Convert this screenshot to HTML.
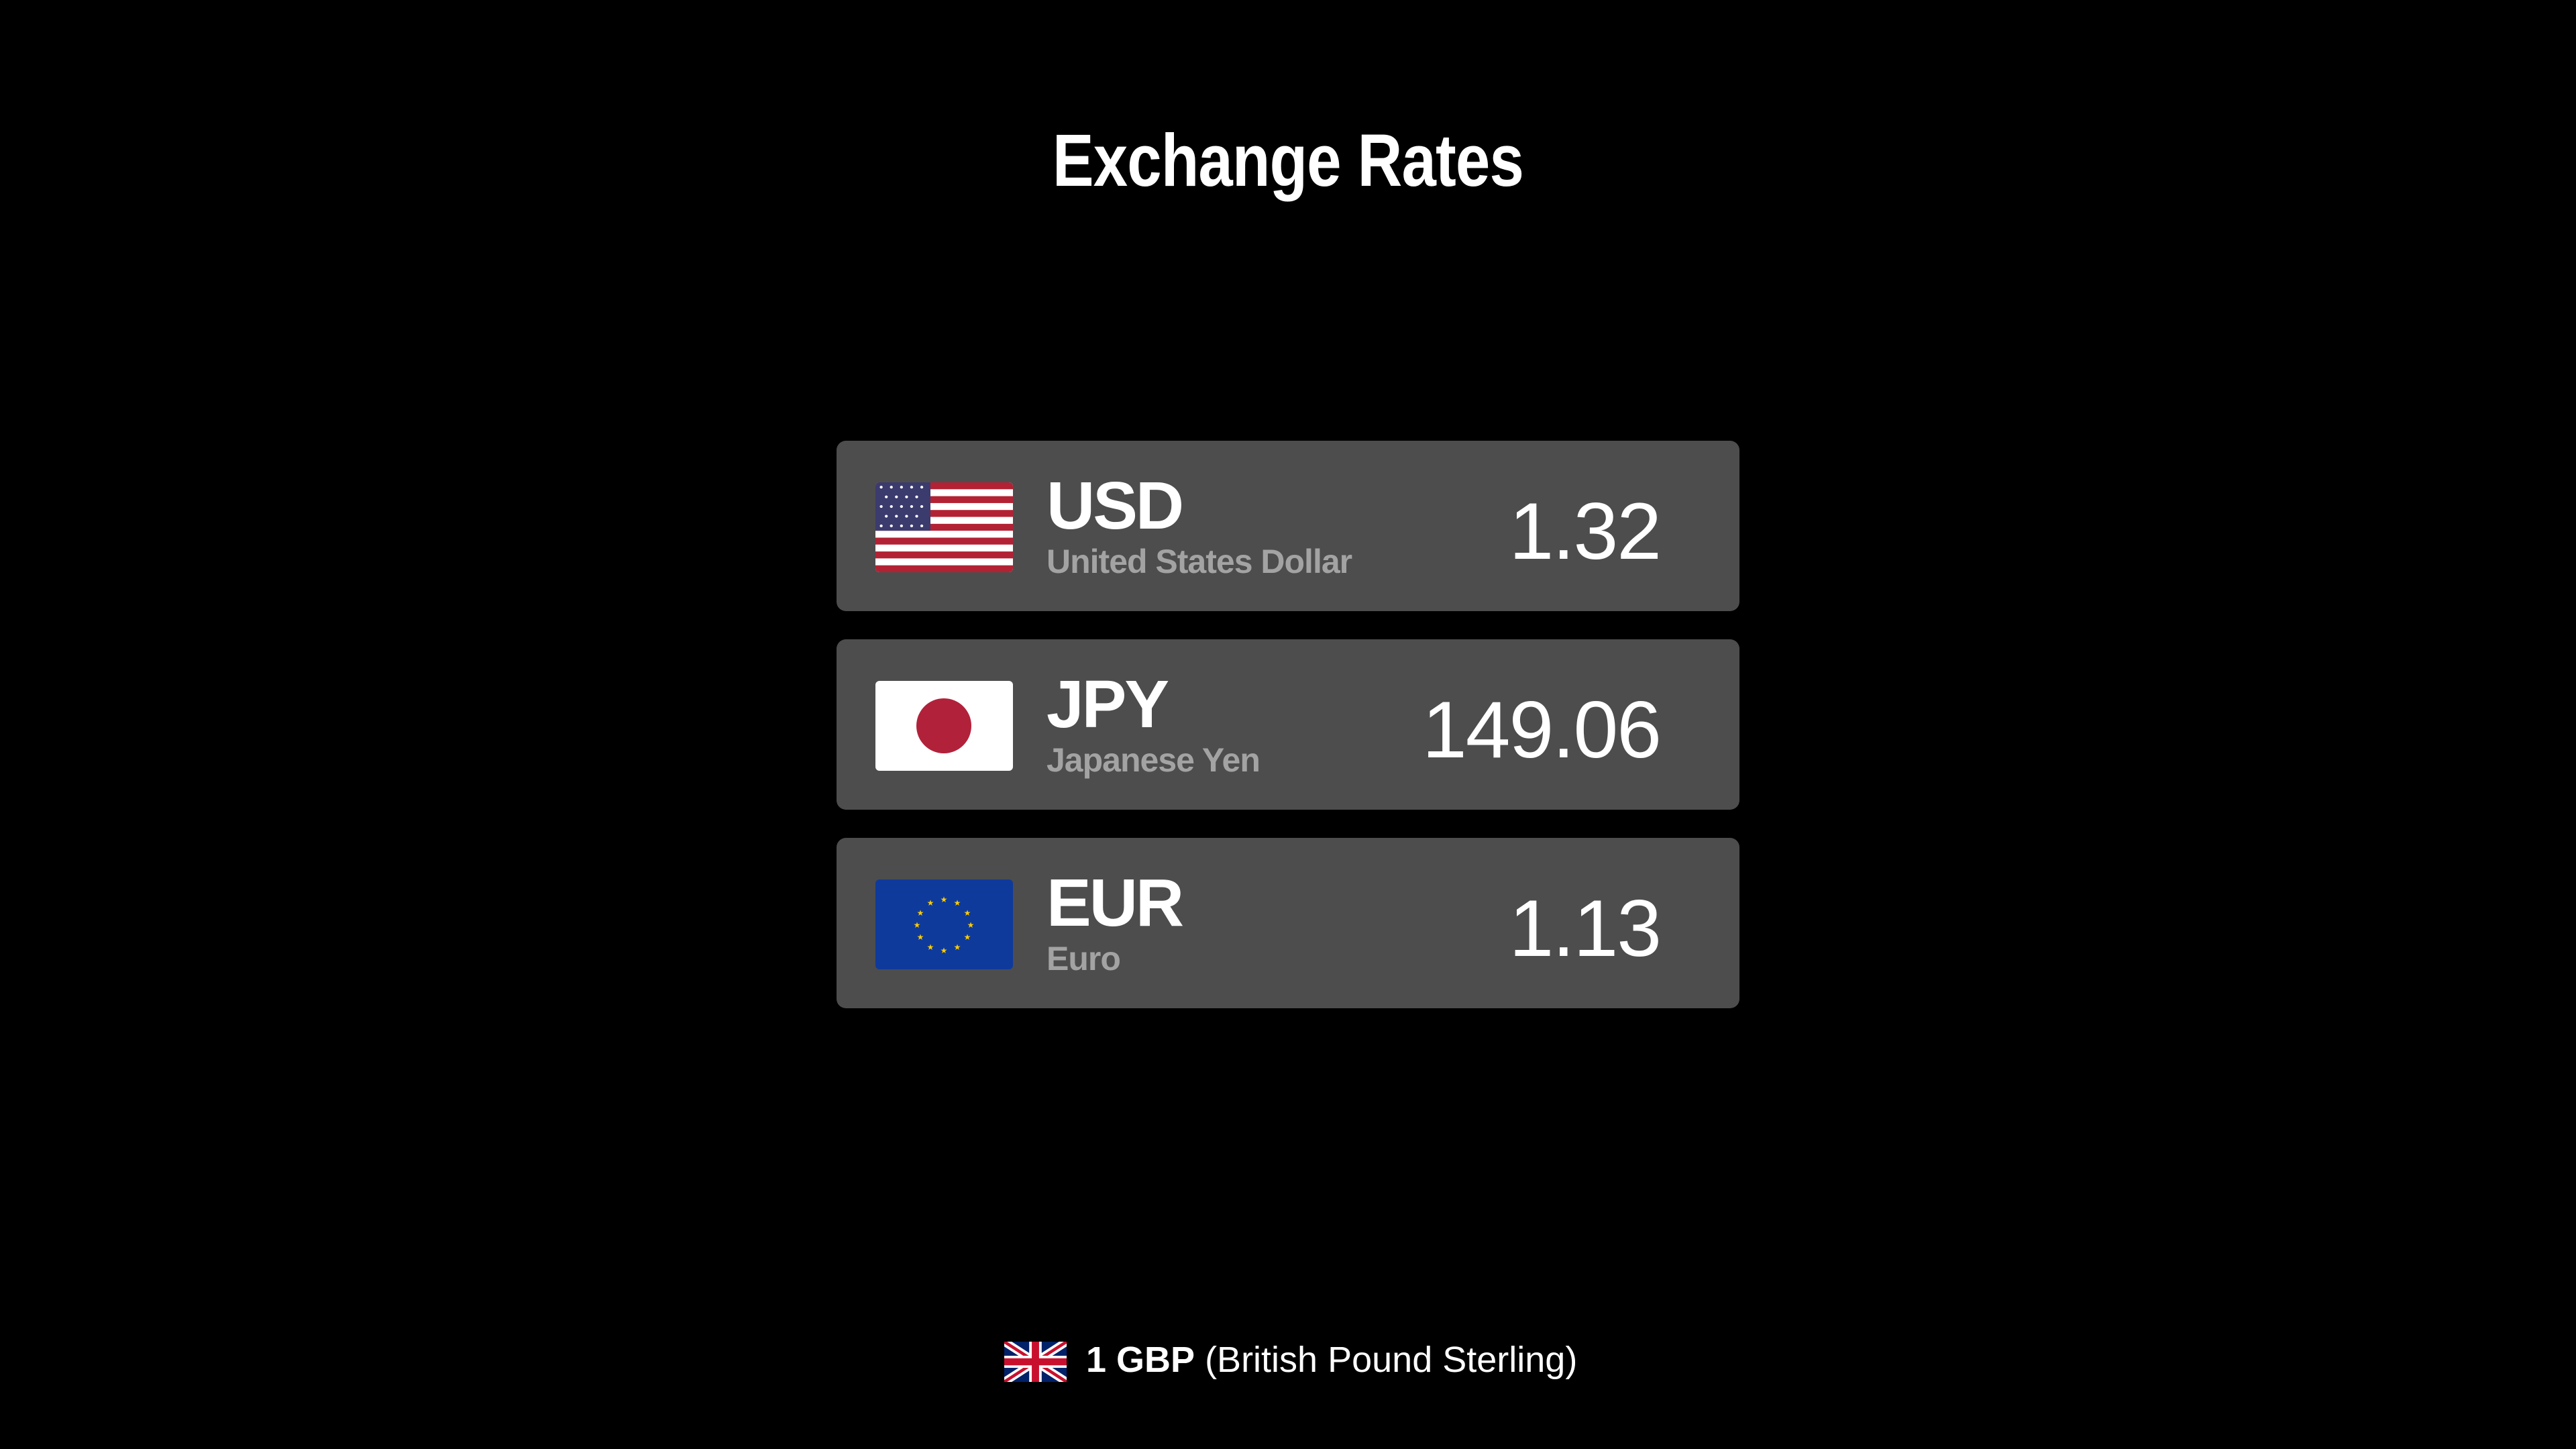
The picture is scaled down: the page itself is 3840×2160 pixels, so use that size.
<!DOCTYPE html>
<html><head><meta charset="utf-8"><style>
body{margin:0;width:3840px;height:2160px;background:#000;overflow:hidden;font-family:"Liberation Sans",sans-serif;color:#fff;position:relative}
.abs{position:absolute}
.title{left:0;width:3840px;text-align:center;top:180px;font-size:110px;font-weight:bold;line-height:120px;letter-spacing:-1px;transform:scaleX(0.84);transform-origin:1920px 0}
.card{left:1247px;width:1346px;height:254px;background:#4d4d4d;border-radius:14px}
.flag{left:58px;top:62px;width:205px;height:134px;border-radius:6px;overflow:hidden}
.code{left:313px;top:42px;font-size:100px;font-weight:bold;line-height:110px;letter-spacing:-3px}
.name{left:313px;top:150px;font-size:50px;font-weight:bold;color:#a3a3a3;line-height:60px;letter-spacing:-1px}
.val{right:118px;top:70px;font-size:120px;line-height:130px;letter-spacing:-2px}
.foot{left:1619px;top:1992px;font-size:54px;line-height:70px;white-space:nowrap}
</style></head><body>
<div class="abs title">Exchange Rates</div>

<div class="abs card" style="top:657px">
 <svg class="abs flag" viewBox="0 0 190 130" preserveAspectRatio="none">
  <rect width="190" height="130" fill="#fff"/>
  <g fill="#b22234"><rect y="0" width="190" height="10"/><rect y="20" width="190" height="10"/><rect y="40" width="190" height="10"/><rect y="60" width="190" height="10"/><rect y="80" width="190" height="10"/><rect y="100" width="190" height="10"/><rect y="120" width="190" height="10"/></g>
  <rect width="76" height="70" fill="#3c3b6e"/>
  <g fill="#fff"><circle cx="8" cy="7" r="2"/><circle cx="22" cy="7" r="2"/><circle cx="36" cy="7" r="2"/><circle cx="50" cy="7" r="2"/><circle cx="64" cy="7" r="2"/><circle cx="15" cy="21" r="2"/><circle cx="29" cy="21" r="2"/><circle cx="43" cy="21" r="2"/><circle cx="57" cy="21" r="2"/><circle cx="8" cy="35" r="2"/><circle cx="22" cy="35" r="2"/><circle cx="36" cy="35" r="2"/><circle cx="50" cy="35" r="2"/><circle cx="64" cy="35" r="2"/><circle cx="15" cy="49" r="2"/><circle cx="29" cy="49" r="2"/><circle cx="43" cy="49" r="2"/><circle cx="57" cy="49" r="2"/><circle cx="8" cy="63" r="2"/><circle cx="22" cy="63" r="2"/><circle cx="36" cy="63" r="2"/><circle cx="50" cy="63" r="2"/><circle cx="64" cy="63" r="2"/></g>
 </svg>
 <div class="abs code">USD</div>
 <div class="abs name">United States Dollar</div>
 <div class="abs val">1.32</div>
</div>

<div class="abs card" style="top:953px">
 <svg class="abs flag" viewBox="0 0 205 134">
  <rect width="205" height="134" fill="#fff"/><circle cx="102" cy="67" r="41" fill="#b2213a"/>
 </svg>
 <div class="abs code">JPY</div>
 <div class="abs name">Japanese Yen</div>
 <div class="abs val">149.06</div>
</div>

<div class="abs card" style="top:1249px">
 <svg class="abs flag" viewBox="0 0 205 134">
  <rect width="205" height="134" fill="#0e3a9c"/>
  <g fill="#ffcc00" font-size="12" text-anchor="middle" font-family="DejaVu Sans">
   <text x="102" y="34">★</text><text x="122" y="39">★</text><text x="137" y="54">★</text><text x="142" y="72">★</text><text x="137" y="90">★</text><text x="122" y="105">★</text><text x="102" y="110">★</text><text x="82" y="105">★</text><text x="67" y="90">★</text><text x="62" y="72">★</text><text x="67" y="54">★</text><text x="82" y="39">★</text>
  </g>
 </svg>
 <div class="abs code">EUR</div>
 <div class="abs name">Euro</div>
 <div class="abs val">1.13</div>
</div>

<svg class="abs" style="left:1497px;top:2000px;width:93px;height:60px" viewBox="0 0 60 40" preserveAspectRatio="none">
 <rect width="60" height="40" fill="#012169"/>
 <path d="M0,0L60,40M60,0L0,40" stroke="#fff" stroke-width="8"/>
 <path d="M0,0L60,40M60,0L0,40" stroke="#c8102e" stroke-width="3"/>
 <path d="M30,0V40M0,20H60" stroke="#fff" stroke-width="12"/>
 <path d="M30,0V40M0,20H60" stroke="#c8102e" stroke-width="7"/>
</svg>
<div class="abs foot"><b>1 GBP</b> (British Pound Sterling)</div>
</body></html>
